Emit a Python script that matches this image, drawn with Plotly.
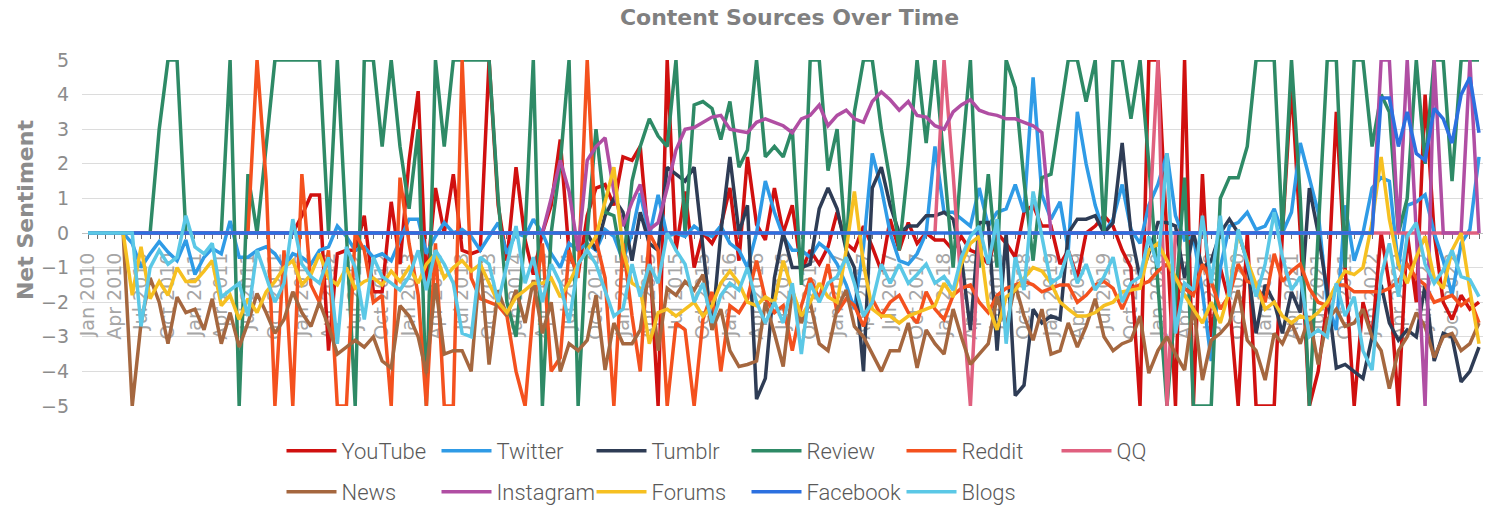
import pandas as pd
import plotly.graph_objects as go

# --------------------------------------------------
# Data (monthly, Jan 2010 - Jan 2023)
# --------------------------------------------------

months = pd.date_range("2010-01-01", "2023-01-01", freq="MS")

youtube = [
    0, 0, 0, 0, 0, 0, 0, 0, 0, 0, 0, 0,
    0, 0, 0, 0, 0, 0, 0, 0, 0, 0, 0, 0,
    0.5, 1.1, 1.1, -3.4, -0.6, -0.5, -0.5, 0.5, -1.7, -1.7, 0.9, -0.9,
    2.1, 4.1, -1.45, 1.3, 0.0, 1.7, -0.5, -0.6, -0.5, 5, 0.8, -0.8,
    1.9, -0.2, -1.2, 0, 0.8, 2.7, -0.6, -1.2, 0.5, 1.3, 1.4, 0.8,
    2.2, 2.1, 2.5, -0.5, -5, 5, -0.5, 1.2, -1, 0, -0.3, 0.2,
    1.3, -0.8, 2.2, 0.25, -0.2, 1.3, 0, 0.8, -1.1, -0.5, -0.9, -0.4,
    0.6, -0.3, -0.5, 0.2, -0.4, -1.1, 0.4, -0.5, 0.3, -0.3, 0, -0.2,
    -0.2, -0.5, -0.1, -0.5, -0.6, -0.9, 0, -0.3, -0.7, 0.6, 0.8, 0.2,
    0.2, -0.9, -0.5, -1.3, 0, 0.2, 0.5, 0.2, -0.5, -1, -5, 5,
    5, 0, -5, 5, -5, 1.7, -3, -1, -2, -5, 0, -5,
    -5, -5, 0, 4.3, 0, -5, -4, -2, 3.5, -1, -5, -2,
    -3, 0, -1.5, -5, 0, -2, 4, 0, -2, -2.5, -1.8, -2.2,
    -2,
]

twitter = [
    0, 0, 0, 0, 0, -0.3, -1.0, -0.6, -0.25, -0.55, -0.8, -0.2,
    -1.2, -0.7, -0.45, -0.6, 0.35, -0.7, -0.7, -0.5, -0.4, -0.6, -1.0, -0.6,
    -0.7, -0.9, -0.5, -0.4, 0.2, -0.1, -0.5, -0.4, -0.7, -0.6, -0.8, -0.2,
    0.4, 0.4, -0.6, -0.1, 0.3, 0, 0.1, -0.1, -0.5, -0.1, 0.3, -0.6,
    0, -0.1, 0.4, 0, -0.6, -1.0, -0.3, -0.5, -0.3, -0.5, 0.1, -0.1,
    -0.8, 0, 1.15, -0.1, 1.1, -0.1, 0, -0.1, 0.2, 0, -0.1, 0.2,
    -0.3, -0.5, -1.0, 0, 1.5, 0.6, -0.1, -0.5, -0.5, -0.7, -0.3, -0.5,
    -0.9, -1.5, -2.2, -0.4, 2.3, 1.3, 0, -0.8, -0.9, -0.6, 0, 2.5,
    0.6, 0.6, 0.4, 0.2, 1.3, 0.2, 0.6, 0.7, 1.4, 0.6, 4.5, 1.1,
    0.4, 0.9, -0.5, 3.5, 2.0, 0.8, 0, 0.4, 1.4, 0.1, -0.3, 0.8,
    1.4, 2.3, 0.5, -0.2, -0.1, -1.7, -3.7, -1.0, 0.2, 0.3, 0.6, 0.1,
    0.2, 0.7, 0, 0.6, 2.6, 1.6, 0.6, -2.0, -2.8, 0.8, -0.8, 0,
    1.3, 1.6, 1.5, -1.0, 0.8, 0.9, 1.1, 0, -0.8, -1.8, -0.3, 0.1,
    2.2,
]

tumblr = [
    0, 0, 0, 0, 0, 0, 0, 0, 0, 0, 0, 0,
    0, 0, 0, 0, 0, 0, 0, 0, 0, 0, 0, 0,
    0, 0, 0, 0, 0, 0, 0, 0, 0, 0, 0, 0,
    0, 0, 0, 0, 0, 0, 0, 0, 0, 0, 0, 0,
    0, 0, 0, 0, 0, 0, 0, 0, 0, -0.5, 0.5, 1.0,
    0.6, -0.8, 0.6, -0.3, -0.5, 1.9, 1.7, 1.5, 1.9, -0.5, -2.8, 0,
    2.2, 0, 0.8, -4.8, -4.2, -1.3, 0, -1.0, -1.0, -0.9, 0.7, 1.3,
    0.7, -0.5, -1.0, -4, 1.3, 1.9, 0.8, 0, 0.2, 0.2, 0.5, 0.5,
    0.6, 0.4, -0.7, -2.8, 0.3, 0.3, -3.4, 0, -4.7, -4.4, -2.2, -2.6,
    -2.4, -2.5, 0, 0.4, 0.4, 0.5, 0, 0.3, 2.6, 0, -1.3, -0.6,
    0.3, 0.3, 0.2, -1.3, 0, -1, -0.8, 0, 0.4, 0, -0.8, -2.9,
    -1.5, -2, -2.9, -1.7, -2.3, 1.3, 0, -1.7, -3.9, -3.8, -4.0, -4.2,
    -3.0, -1.5, -2.6, -3.1, -2.8, -3.0, -1.5, -3.7, -2.9, -3.0, -4.3, -4.0,
    -3.3,
]

review = [
    0, 0, 0, 0, 0, 0, 0, 0, 3, 5, 5, 0,
    0, 0, 0, 0, 5, -5, 1.7, 0, 2.5, 5, 5, 5,
    5, 5, 5, 0, 5, 0, -5, 5, 5, 2.5, 5, 2.5,
    0.7, 3, -5, 5, 2.5, 5, 5, 5, 5, 5, 1, -2,
    -3, 0, 5, -5, 0, 2, 5, -5, 0, 3, 0.6, 0.5,
    -1, 1.5, 2.5, 3.3, 2.8, 2.5, 5, 0, 3.7, 3.8, 3.6, 2.7,
    3.8, 1.9, 2.4, 5, 2.2, 2.5, 2.2, 3.0, -1.5, 5, 5, 1.8,
    3.0, -0.5, 3.5, 5, 5, 3, 1.5, -0.5, 2, 5, 2.6, 5,
    2, -1, 2, 5, -1, 1.7, -1, 5, 4.2, 1.5, -0.8, 1.6,
    1.7, 3.5, 5, 5, 3.8, 5, 0, 5, 5, 3.3, 5, 2,
    -1.5, -5, -2, 1.6, -5, -5, -5, 1.0, 1.6, 1.6, 2.5, 5,
    5, 5, 0, 5, 1, -5, 0, 5, 5, -1, 5, 5,
    2.5, 4.0, 3.5, 0, 1, 5, 2, 5, 5, 1.5, 5, 5,
    5,
]

reddit = [
    0, 0, 0, 0, 0, 0, 0, 0, 0, 0, 0, 0,
    0, 0, 0, 0, 0, 0, 0, 5, 1.5, -5, -0.5, -5,
    1.7, -1.5, -2.0, -0.5, -5, -5, 0, -0.5, -2.0, -1.8, -5, 1.6,
    -0.3, -1.8, -5, -0.3, -5, -5, 5, -1.3, -1.9, -2.0, -2.1, -2.4,
    -4, -5, -2.2, -0.3, -4.0, -3.6, -0.5, -1.3, 5, -0.2, -1.3, -5,
    -0.3, -2.4, -4.0, 0, -0.5, -5, -2.6, -2.8, -5, -2.5, -1.7, -4.0,
    -2.1, -2.3, -1.9, -0.8, -1.9, -2.3, -2.1, -3.4, -2.1, -1.3, -1.9, -0.9,
    -2.3, -1.9, -2.1, -2.7, -1.9, -2.4, -2.0, -1.8, -2.3, -2.6, -1.7, -2.2,
    -2.5, -1.8, -1.6, -1.5, -2.0, -2.3, -1.8, -1.6, -1.5, -1.4, -1.5, -1.7,
    -1.6, -1.5, -1.5, -2.0, -1.8, -1.5, -1.4, -1.6, -2.2, -1.6, -1.5, -1.4,
    -1.1, -0.9, -1.3, -1.6, -1.8, -0.9, -1.4, -2.2, -1.8, -0.9, -1.4, -1.5,
    -2.0, -0.6, -1.4, -1.1, -0.9, -1.6, -2.0, -2.1, -1.5, -1.5, -1.7, -1.7,
    -1.7, -1.7, -1.6, -1.4, -0.9, -1.3, -1.5, -2.0, -1.9, -1.8, -2.1, -1.9,
    -2.6,
]

qq = [
    0, 0, 0, 0, 0, 0, 0, 0, 0, 0, 0, 0,
    0, 0, 0, 0, 0, 0, 0, 0, 0, 0, 0, 0,
    0, 0, 0, 0, 0, 0, 0, 0, 0, 0, 0, 0,
    0, 0, 0, 0, 0, 0, 0, 0, 0, 0, 0, 0,
    0, 0, 0, 0, 0, 0, 0, 0, 0, 0, 0, 0,
    0, 0, 0, 0, 0, 0, 0, 0, 0, 0, 0, 0,
    0, 0, 0, 0, 0, 0, 0, 0, 0, 0, 0, 0,
    0, 0, 0, 0, 0, 0, 0, 0, 0, 0, 0, 0,
    5, 1.7, -1.6, -5, 0, 0, 0, 0, 0, 0, 0, 0,
    0, 0, 0, 0, 0, 0, 0, 0, 0, 0, 0, 0,
    5, -5, 0, 0, 0, 0, 0, 0, 0, 0, 0, 0,
    0, 0, 0, 0, 0, 0, 0, 0, 0, 0, 0, 0,
    0, 0, 0, 0, 0, 0, 0, 0, 0, 0, 0, 0,
    0,
]

news = [
    0, 0, 0, 0, 0, -5, -2.6, -1.3, -2.0, -3.2, -1.85, -2.3,
    -2.2, -2.8, -1.9, -3.2, -2.3, -3.3, -2.6, -1.75, -2.3, -2.9, -2.5, -1.7,
    -2.3, -2.7, -2.0, -2.7, -3.5, -3.3, -3.1, -3.3, -3.0, -3.7, -3.9, -2.1,
    -2.4, -3.0, -4.05, -1.45, -3.5, -3.4, -3.4, -4.0, -0.8, -3.8, -1.65, -2.4,
    -1.65, -2.6, -1.36, -2.9, -2.0, -4.0, -3.2, -3.4, -3.1, -1.8, -3.96, -2.6,
    -3.2, -3.2, -2.8, -1.0, -3.4, -1.6, -1.8, -1.4, -1.65, -1.2, -2.8, -2.2,
    -3.4, -3.86, -3.8, -3.7, -2.0, -2.9, -3.86, -1.65, -2.6, -2.0, -3.2, -3.4,
    -2.2, -1.65, -2.7, -3.0, -3.5, -4.0, -3.4, -3.4, -2.6, -3.9, -2.8, -3.2,
    -3.5, -2.2, -3.0, -3.8, -3.5, -3.2, -1.84, -2.7, -1.5, -2.4, -3.1, -2.2,
    -3.5, -3.4, -2.6, -3.3, -2.7, -1.9, -3.0, -3.4, -3.2, -3.1, -2.4, -4.05,
    -3.4, -3.0, -3.5, -3.96, -2.1, -4.25, -3.1, -2.9, -2.6, -1.65, -3.1, -3.4,
    -4.25, -2.9, -3.2, -2.6, -3.2, -2.4, -3.8, -2.5, -2.2, -2.7, -2.6, -2.2,
    -3.0, -3.4, -4.5, -3.4, -3.0, -2.3, -2.7, -3.6, -3.0, -2.9, -3.4, -3.2,
    -2.6,
]

instagram = [
    0, 0, 0, 0, 0, 0, 0, 0, 0, 0, 0, 0,
    0, 0, 0, 0, 0, 0, 0, 0, 0, 0, 0, 0,
    0, 0, 0, 0, 0, 0, 0, 0, 0, 0, 0, 0,
    0, 0, 0, 0, 0, 0, 0, 0, 0, 0, 0, 0,
    0, 0, 0, 0, 1.0, 2.1, 1.2, -0.5, 2.1, 2.5, 2.75, 1.2,
    0.2, 0.9, 1.4, 0.1, 0.3, 1.3, 2.4, 3.0, 3.05, 3.2, 3.35, 3.4,
    3.0, 2.95, 2.9, 3.2, 3.3, 3.2, 3.1, 2.9, 3.3, 3.4, 3.7, 3.1,
    3.4, 3.55, 3.3, 3.2, 3.8, 4.08, 3.85, 3.55, 3.8, 3.4, 3.35, 3.1,
    3.0, 3.5, 3.7, 3.85, 3.55, 3.45, 3.4, 3.3, 3.3, 3.2, 3.1, 2.9,
    0, 0, 0, 0, 0, 0, 0, 0, 0, 0, 0, 0,
    0, 0, 0, 0, 0, 0, 0, 0, 0, 0, 0, 0,
    0, 0, 0, 0, 0, 0, 0, 0, 0, 0, 0, 0,
    0, 5, 5, 0, 5, 0, -5, 5, 0, 0, 0, 5,
    0,
]

forums = [
    0, 0, 0, 0, 0, -1.8, -0.4, -1.9, -1.4, -1.8, -1.0, -1.4,
    -1.4, -1.1, -0.8, -2.1, -1.8, -2.5, -1.9, -2.3, -1.7, -1.4, -1.0, -0.8,
    -1.5, -1.2, -0.6, -1.3, -1.5, -1.0, -1.6, -1.4, -1.3, -1.5, -1.1, -1.4,
    -1.0, -1.45, -0.9, -0.6, -1.3, -1.0, -0.8, -1.1, -0.9, -1.45, -2.0, -2.3,
    -1.85, -1.65, -1.45, -1.45, -1.3, -1.85, -1.45, -0.9, -0.5, -0.1, 0.9, 1.9,
    -0.5, -1.45, -1.6, -3.2, -2.3, -2.2, -2.4, -2.2, -2.0, -2.4, -2.1, -1.45,
    -1.1, -1.45, -2.0, -2.1, -1.85, -2.0, -0.8, -1.65, -2.4, -2.0, -1.45, -1.85,
    -2.0, -0.5, 1.2, -0.9, -2.2, -2.4, -2.4, -2.6, -2.4, -2.3, -2.2, -2.1,
    -1.45, -1.85, -0.9, -0.3, -0.1, -2.1, -2.8, -1.85, -1.65, -1.3, -1.0, -1.1,
    -1.45, -2.0, -2.2, -2.4, -2.4, -2.3, -2.1, -2.0, -1.7, -1.65, -1.6, -0.5,
    -0.3, -0.8, -1.3, -1.8, -2.2, -2.6, -2.0, -2.6, -1.65, 0, -0.8, -1.5,
    -2.2, -2.0, -2.4, -2.6, -2.4, -2.5, -2.3, -2.0, -1.5, -1.1, -1.2, -1.0,
    0.3, 2.2, 0.4, -0.9, -1.45, -0.7, -0.1, -1.3, -1.6, -0.5, 0, -1.65,
    -3.2,
]

facebook = [
    0, 0, 0, 0, 0, 0, 0, 0, 0, 0, 0, 0,
    0, 0, 0, 0, 0, 0, 0, 0, 0, 0, 0, 0,
    0, 0, 0, 0, 0, 0, 0, 0, 0, 0, 0, 0,
    0, 0, 0, 0, 0, 0, 0, 0, 0, 0, 0, 0,
    0, 0, 0, 0, 0, 0, 0, 0, 0, 0, 0, 0,
    0, 0, 0, 0, 0, 0, 0, 0, 0, 0, 0, 0,
    0, 0, 0, 0, 0, 0, 0, 0, 0, 0, 0, 0,
    0, 0, 0, 0, 0, 0, 0, 0, 0, 0, 0, 0,
    0, 0, 0, 0, 0, 0, 0, 0, 0, 0, 0, 0,
    0, 0, 0, 0, 0, 0, 0, 0, 0, 0, 0, 0,
    0, 0, 0, 0, 0, 0, 0, 0, 0, 0, 0, 0,
    0, 0, 0, 0, 0, 0, 0, 0, 0, 0, 0, 0,
    0, 3.9, 3.9, 2.5, 3.5, 2.3, 2.1, 3.6, 3.3, 2.6, 4.0, 4.5,
    2.9,
]

blogs = [
    0, 0, 0, 0, 0, 0, -2.7, -1.0, -0.5, -0.9, -0.7, 0.5,
    -0.4, -0.6, -0.3, -1.85, -1.65, -1.45, -2.4, -0.5, -1.26, -2.0, -1.45, 0.4,
    -0.9, -1.26, -1.45, -0.7, -3.2, -0.4, -1.0, -2.5, -0.7, -1.26, -1.45, -1.65,
    -1.26, -0.5, -1.65, -0.5, -0.9, -1.45, -2.9, -3.0, -0.7, -0.9, -2.0, -0.9,
    0.2, -1.45, -0.7, -2.0, -0.9, -1.45, -2.6, -0.9, -0.5, -0.9, -1.65, -2.4,
    -2.2, -0.9, -1.84, -0.9, -1.45, 0, -0.5, -0.9, -2.0, -1.45, -2.6, -1.8,
    -1.45, -1.65, -1.0, -2.0, -2.6, -2.0, -2.6, -1.45, -3.5, -1.45, -2.0, -1.45,
    -1.26, -0.7, -1.45, -2.4, -2.0, -0.9, -1.45, -0.9, -1.45, -1.2, -0.9, -1.45,
    -1.26, -1.65, -0.7, -0.1, 0.2, -0.9, 0.4, -3.2, -0.7, -1.65, 1.2, -0.1,
    -1.45, -1.26, -0.5, -1.45, -0.9, -1.65, -1.26, -0.7, -2.0, -1.45, -1.26, -0.1,
    -1.0, 2.3, -2.9, -1.45, -1.65, 0.5, -1.45, 0.5, -1.84, 0.1, -0.9, -1.84,
    -0.9, 0.6, -0.7, -1.65, -1.26, -3.0, -2.8, -3.0, -1.45, -2.4, -1.84, -3.4,
    -3.96, -1.26, -0.3, -1.84, -0.1, 0.3, -0.9, -1.45, -1.07, -0.5, -1.26, -1.35,
    -1.84,
]

series = [
    ("YouTube", youtube, "#d0100f"),
    ("Twitter", twitter, "#2f9be6"),
    ("Tumblr", tumblr, "#2e3c55"),
    ("Review", review, "#2e8a66"),
    ("Reddit", reddit, "#f4511e"),
    ("QQ", qq, "#e0607f"),
    ("News", news, "#a5673f"),
    ("Instagram", instagram, "#b04ea3"),
    ("Forums", forums, "#f6c021"),
    ("Facebook", facebook, "#2c70e0"),
    ("Blogs", blogs, "#5bc8e6"),
]

for name, vals, color in series:
    assert len(vals) == len(months), (name, len(vals))

# --------------------------------------------------
# Traces
# --------------------------------------------------

fig = go.Figure()

for k, (name, vals, color) in enumerate(series):
    fig.add_trace(
        go.Scatter(
            x=months,
            y=vals,
            mode="lines",
            name=name,
            line=dict(color=color, width=3.5),
            legend="legend" if k < 6 else "legend2",
        )
    )

# --------------------------------------------------
# Axes
# --------------------------------------------------

fig.update_xaxes(
    type="date",
    range=["2009-12-11 12:00", "2023-01-14 16:00"],
    anchor="free",
    position=0.5,
    automargin=False,
    showline=True,
    linecolor="#bfbfbf",
    showgrid=False,
    zeroline=False,
    tick0="2010-01-01",
    dtick="M3",
    tickformat="%b %Y",
    tickangle=-90,
    ticks="outside",
    ticklen=5,
    tickcolor="#6e6e6e",
    minor=dict(dtick="M1", ticks="outside", ticklen=5, tickcolor="#6e6e6e", showgrid=False),
    tickfont=dict(family="DejaVu Sans", size=19, color="#a6a6a6"),
    ticklabelstandoff=6,
    layer="below traces",
)

fig.update_yaxes(
    range=[-5, 5],
    tick0=0,
    dtick=1,
    automargin=False,
    showgrid=True,
    gridcolor="#dcdcdc",
    gridwidth=1,
    zeroline=False,
    showline=False,
    ticks="",
    tickfont=dict(family="DejaVu Sans", size=19, color="#8c8c8c"),
    ticklabelstandoff=12,
)

# --------------------------------------------------
# Layout
# --------------------------------------------------

legend_style = dict(
    orientation="h",
    xanchor="left",
    yanchor="middle",
    yref="container",
    entrywidth=90,
    entrywidthmode="pixels",
    itemwidth=50,
    font=dict(family="Roboto", size=22, color="#595959", weight=300),
    bgcolor="rgba(0,0,0,0)",
)

fig.update_layout(
    width=1485,
    height=506,
    margin=dict(l=82, r=2, t=60, b=100, autoexpand=False),
    plot_bgcolor="white",
    paper_bgcolor="white",
    title=dict(
        text="Content Sources Over Time",
        x=0.505,
        xref="paper",
        xanchor="center",
        y=0.965,
        yref="container",
        yanchor="middle",
        font=dict(family="DejaVu Sans", size=22, color="#808080", weight="bold"),
    ),
    showlegend=True,
    legend=dict(x=0.1424, y=0.1087, **legend_style),
    legend2=dict(x=0.1424, y=0.0277, **legend_style),
    annotations=[
        dict(
            text="Net Sentiment",
            xref="paper",
            yref="paper",
            x=-0.0407,
            y=0.569,
            xanchor="center",
            yanchor="middle",
            textangle=-90,
            showarrow=False,
            font=dict(family="DejaVu Sans", size=22, color="#8c8c8c", weight="bold"),
        )
    ],
)

fig.write_html(
    "out.html",
    config={"displayModeBar": False},
    post_script="document.body.style.margin='0';document.body.style.overflow='hidden';",
)
